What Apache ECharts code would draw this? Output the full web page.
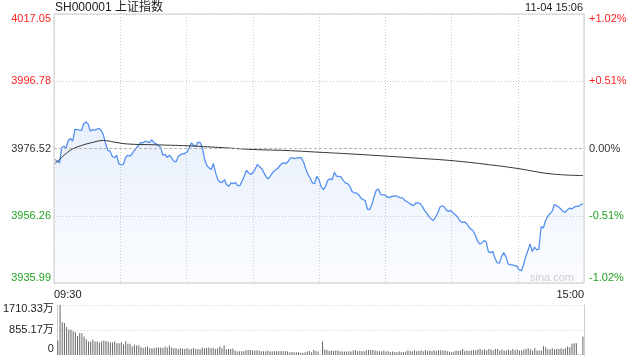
<!DOCTYPE html>
<html>
<head>
<meta charset="utf-8">
<script src="https://cdn.jsdelivr.net/npm/echarts@6/dist/echarts.min.js"></script>
<style>html,body{margin:0;padding:0;background:#fff;}#c{width:640px;height:360px;}</style>
</head>
<body>
<div id="c"></div>
<script>
const titleText = 'SH000001 上证指数';
const stampText = '11-04 15:06';
const watermark = 'sina.com';
const priceTicks = ['3935.99','3956.26','3976.52','3996.78','4017.05'];
const pctTicks = ['-1.02%','-0.51%','0.00%','+0.51%','+1.02%'];
const volTicks = ['0','855.17万','1710.33万'];
const timeTicks = ['09:30','15:00'];
const prevClose = 3976.52;
const priceMin = 3935.99;
const priceMax = 4017.05;
const volMax = 1710.33;

// minute prices, 09:30..11:30 (121) and 13:01..15:00 (120)
const prices = [
3973.19,3972.68,3972.19,3976.73,3977.22,3976.73,3978.94,3979.54,3978.73,3982.27,
3982.18,3982.06,3981.96,3983.99,3984.48,3983.99,3981.75,3982.18,3982.06,3982.36,
3982.57,3981.96,3980.54,3977.94,3975.92,3975.70,3974.19,3973.71,3974.49,3971.89,
3971.68,3971.68,3973.71,3974.49,3974.19,3974.92,3975.92,3976.73,3977.43,3978.34,
3978.24,3978.73,3978.55,3978.34,3979.15,3978.24,3977.94,3977.34,3976.91,3974.49,
3974.71,3973.89,3974.49,3973.71,3972.68,3972.50,3974.10,3974.71,3974.92,3975.01,
3975.52,3976.73,3978.24,3977.43,3977.22,3978.43,3978.24,3976.73,3973.19,3971.38,
3970.68,3970.17,3971.98,3969.17,3967.14,3966.33,3966.33,3967.14,3965.63,3965.12,
3966.15,3965.93,3966.33,3965.33,3965.33,3966.63,3968.14,3969.96,3969.17,3968.66,
3969.35,3970.38,3971.68,3970.99,3970.38,3969.17,3967.96,3967.36,3968.35,3969.35,
3969.96,3970.38,3971.17,3971.98,3972.19,3971.98,3972.68,3973.71,3973.71,3973.50,
3973.71,3973.80,3973.71,3972.38,3970.38,3968.66,3967.66,3966.15,3965.93,3968.14,
3967.14,
3964.94,3964.12,3965.12,3966.93,3967.36,3967.14,3969.35,3968.14,3968.14,
3967.96,3966.93,3966.15,3965.93,3965.12,3963.61,3963.12,3963.12,3962.61,3961.61,
3961.09,3960.88,3958.28,3958.07,3959.58,3961.91,3963.91,3964.33,3962.70,3962.52,
3962.52,3961.91,3961.70,3962.09,3962.09,3962.30,3961.91,3961.70,3961.61,3960.88,
3960.49,3960.10,3959.58,3959.28,3960.10,3960.10,3959.89,3959.07,3957.86,3957.07,
3956.04,3955.26,3954.83,3955.86,3957.07,3958.89,3959.28,3958.89,3957.86,3957.56,
3957.86,3957.07,3956.56,3955.86,3954.83,3954.23,3954.44,3954.05,3953.02,3952.23,
3951.81,3950.51,3948.78,3947.79,3948.00,3948.78,3948.48,3945.46,3945.16,3945.46,
3943.46,3942.13,3941.95,3943.95,3945.16,3943.95,3941.74,3941.44,3941.44,3941.13,
3941.13,3939.92,3939.71,3941.44,3943.95,3945.76,3947.79,3945.46,3946.79,3945.97,
3946.18,3953.02,3952.54,3954.83,3956.04,3956.86,3957.56,3959.58,3959.28,3958.89,
3958.28,3957.56,3957.25,3958.07,3958.58,3958.28,3958.89,3959.07,3959.07,3959.58,
3959.89
];

// average price line, read at these minute indices
const avgIdx = [0,2,5,8,12,16,22,27,33,45,60,75,90,105,120,135,150,165,180,195,210,225,240];
const avgVals = [3972.00,3973.19,3975.01,3976.37,3977.43,3978.18,3978.94,3978.43,3977.88,3977.64,3977.34,3976.82,3976.22,3975.92,3975.40,3974.86,3974.25,3973.59,3972.89,3971.83,3970.53,3968.90,3968.35];

// volume (万)
const volAM = [
497,1710.33,1121,1098,960,867,867,809,775,647,
751,740,636,543,462,462,532,462,462,428,
474,497,474,462,428,428,462,405,405,439,
358,474,381,381,300,358,324,335,266,243,
266,289,231,231,231,254,254,254,243,289,
254,324,254,231,231,208,231,220,208,231,
197,208,231,208,208,197,254,231,243,254,
231,243,208,220,289,231,324,197,208,208,
220,150,127,127,127,127,162,173,173,150,
150,150,150,127,127,127,150,116,127,127,
127,127,127,127,127,127,92,104,92,92,
92,81,81,92,116,139,92,173,139,116,
12
];
const volPM = [
462,185,173,139,150,139,150,150,127,116,
116,116,127,116,150,173,127,139,127,127,
162,173,173,173,150,139,127,116,150,116,
127,104,116,104,92,116,104,92,116,150,
139,127,150,127,139,150,127,173,139,150,
127,162,139,162,162,150,150,127,116,92,
116,150,139,150,208,127,150,139,150,162,
150,185,208,162,185,162,208,185,150,208,
208,150,185,150,150,185,150,208,162,185,
150,150,185,208,231,197,150,243,150,150,
150,300,266,197,197,231,197,208,208,231,
208,231,289,266,381,405,405,20,20,636
];
const volumes = volAM.concat(volPM);

const FONT = '"Liberation Sans", Arial, "Noto Sans CJK SC", sans-serif';
const UP = '#f22', DOWN = '#22a322', FLAT = '#333';
const tickColor = v => { v = Number(v); return v > 2 ? UP : (v < 2 ? DOWN : FLAT); };
const edgeRich = {
  t: { padding: [10, 0, 0, 0] },
  b: { padding: [0, 0, 10, 0] },
  m: {}
};
const edgeFmt = (arr) => (v) => {
  v = Math.round(Number(v));
  const s = arr[v];
  if (s === undefined) return '';
  if (v === arr.length - 1) return '{t|' + s + '}';
  if (v === 0) return '{b|' + s + '}';
  return '{m|' + s + '}';
};

const chart = echarts.init(document.getElementById('c'), null, { renderer: 'canvas' });
chart.setOption({
  animation: false,
  textStyle: { fontFamily: FONT },
  title: [
    { text: titleText, left: 55, top: 2, padding: 0, textStyle: { fontSize: 12, fontWeight: 'normal', color: '#222', fontFamily: FONT } },
    { text: stampText, right: 57, top: 2, padding: 0, textStyle: { fontSize: 11, fontWeight: 'normal', color: '#222', fontFamily: FONT } }
  ],
  graphic: [
    { type: 'text', right: 66, top: 272, style: { text: watermark, fill: '#cfcfcf', fontSize: 11, fontFamily: FONT } }
  ],
  grid: [
    { left: 54, right: 56, top: 14, height: 269, show: true, borderColor: '#ccc', borderWidth: 1, backgroundColor: 'transparent' },
    { left: 54, right: 56, top: 305, height: 50 }
  ],
  xAxis: [
    { type: 'value', gridIndex: 0, min: -0.5, max: 240.5, show: false },
    { type: 'value', gridIndex: 0, min: 0, max: 8, interval: 1, position: 'bottom',
      axisLine: { show: false }, axisTick: { show: false },
      splitLine: { show: true, lineStyle: { color: '#ccc', type: [1, 2], width: 1 } },
      axisLabel: { formatter: v => (Number(v) === 0 ? timeTicks[0] : ''), align: 'left', margin: 6, fontSize: 11, color: '#222', fontFamily: FONT } },
    { type: 'value', gridIndex: 0, min: 0, max: 8, interval: 1, position: 'bottom',
      axisLine: { show: false }, axisTick: { show: false }, splitLine: { show: false },
      axisLabel: { formatter: v => (Number(v) === 8 ? timeTicks[1] : ''), align: 'right', margin: 6, fontSize: 11, color: '#222', fontFamily: FONT } },
    { type: 'value', gridIndex: 1, min: -0.5, max: 240.5, show: false }
  ],
  yAxis: [
    { type: 'value', gridIndex: 0, min: priceMin, max: priceMax, show: false, position: 'left' },
    { type: 'value', gridIndex: 0, min: 0, max: 4, interval: 1, position: 'left',
      axisLine: { show: false }, axisTick: { show: false },
      splitLine: { show: true, lineStyle: { color: ['#ccc', '#ccc', 'rgba(0,0,0,0)', '#ccc', '#ccc'], type: [1, 2], width: 1 } },
      axisLabel: { formatter: edgeFmt(priceTicks), rich: edgeRich, color: tickColor, fontSize: 11, margin: 3, fontFamily: FONT } },
    { type: 'value', gridIndex: 0, min: 0, max: 4, interval: 1, position: 'right',
      axisLine: { show: false }, axisTick: { show: false }, splitLine: { show: false },
      axisLabel: { formatter: edgeFmt(pctTicks), rich: edgeRich, color: tickColor, fontSize: 11, margin: 5, fontFamily: FONT } },
    { type: 'value', gridIndex: 1, min: 0, max: volMax, show: false, position: 'left' },
    { type: 'value', gridIndex: 1, min: 0, max: 2, interval: 1, position: 'left',
      axisLine: { show: true, lineStyle: { color: '#ccc' } }, axisTick: { show: false },
      splitLine: { show: true, lineStyle: { color: ['rgba(0,0,0,0)', '#ccc', '#ccc'], type: [1, 2], width: 1 } },
      axisLabel: { formatter: v => {
          v = Math.round(Number(v)); const s = volTicks[v];
          if (v === 2) return '{t|' + s + '}';
          if (v === 0) return '{b|' + s + '}';
          return '{m|' + s + '}';
        },
        rich: { t: { padding: [8, 0, 0, 0] }, b: { padding: [0, 0, 12, 0] }, m: {} },
        color: '#222', fontSize: 11, margin: 3, fontFamily: FONT } },
    { type: 'value', gridIndex: 1, min: 0, max: 2, interval: 1, position: 'right',
      axisLine: { show: true, lineStyle: { color: '#ccc' } }, axisTick: { show: false },
      splitLine: { show: false }, axisLabel: { show: false } }
  ],
  series: [
    {
      type: 'line', xAxisIndex: 0, yAxisIndex: 0,
      data: prices.map((v, i) => [i, v]),
      showSymbol: false, symbol: 'none',
      lineStyle: { color: '#5390f0', width: 1.3 },
      areaStyle: {
        color: new echarts.graphic.LinearGradient(0, 0, 0, 1, [
          { offset: 0, color: 'rgba(70,130,230,0.18)' },
          { offset: 1, color: 'rgba(70,130,230,0.03)' }
        ])
      },
      markLine: {
        silent: true, symbol: ['none', 'none'], label: { show: false },
        lineStyle: { color: '#b5b5b5', type: [3, 2], width: 1 },
        data: [{ yAxis: prevClose }]
      },
      z: 3
    },
    {
      type: 'line', xAxisIndex: 0, yAxisIndex: 0,
      data: avgIdx.map((i, k) => [i, avgVals[k]]),
      showSymbol: false, symbol: 'none', smooth: 0.4,
      lineStyle: { color: '#333', width: 1 },
      z: 4
    },
    {
      type: 'bar', xAxisIndex: 3, yAxisIndex: 3,
      data: volumes.map((v, i) => [i, v]),
      barWidth: 1,
      itemStyle: { color: '#666' }
    }
  ]
});
</script>
</body>
</html>
